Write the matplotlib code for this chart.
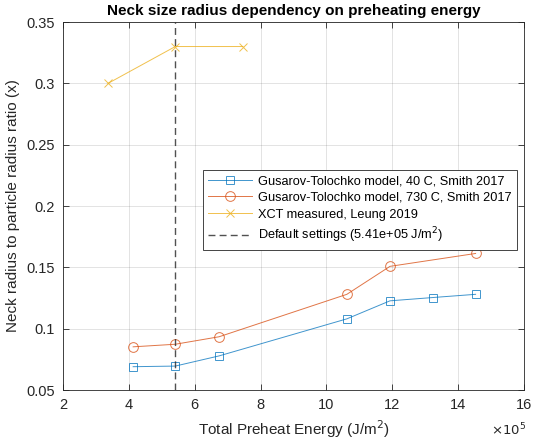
import matplotlib
matplotlib.use("Agg")
import matplotlib.pyplot as plt
from matplotlib.ticker import MultipleLocator

plt.rcParams['font.family'] = ['Liberation Sans', 'DejaVu Sans']

# Preheat energy in units of 1e5 J/m^2
energy_40c = [4.13, 5.41, 6.74, 10.62, 11.93, 13.24, 14.53]
neck_40c = [0.069, 0.0695, 0.0778, 0.108, 0.1227, 0.1254, 0.128]

energy_730c = [4.13, 5.41, 6.74, 10.62, 11.93, 14.53]
neck_730c = [0.0852, 0.0873, 0.0934, 0.128, 0.1508, 0.1613]

energy_xct = [3.37, 5.41, 7.46]
neck_xct = [0.30, 0.33, 0.33]

default_energy = 5.41

labels = [
    "Gusarov-Tolochko model, 40 C, Smith 2017",
    "Gusarov-Tolochko model, 730 C, Smith 2017",
    "XCT measured, Leung 2019",
    "Default settings (5.41e+05 J/m$^2$)",
]

c_blue = (0.0, 0.447, 0.741)
c_orange = (0.85, 0.325, 0.098)
c_yellow = (0.929, 0.694, 0.125)
c_axis = (0.15, 0.15, 0.15)

fig = plt.figure(figsize=(5.33, 4.45), dpi=100)
ax = fig.add_axes([63 / 533, 1 - 390 / 445, (524 - 63) / 533, (390 - 22) / 445])

ax.plot(energy_40c, neck_40c, color=c_blue, lw=0.7, marker='s', ms=6,
        mfc='none', mew=0.7, alpha=0.75, label=labels[0])
ax.plot(energy_730c, neck_730c, color=c_orange, lw=0.7, marker='o', ms=7,
        mfc='none', mew=0.7, alpha=0.8, label=labels[1])
ax.plot(energy_xct, neck_xct, color=c_yellow, lw=0.7, marker='x', ms=6,
        mew=0.7, alpha=0.8, label=labels[2])
ax.axvline(default_energy, color=c_axis, lw=1.0, ls=(0, (5, 3)),
           alpha=0.8, label=labels[3])

ax.set_xlim(2, 16)
ax.set_ylim(0.05, 0.35)
ax.xaxis.set_major_locator(MultipleLocator(2))
ax.yaxis.set_major_locator(MultipleLocator(0.05))
ax.set_yticklabels([f"{v:g}" for v in ax.get_yticks()])

ax.grid(True, color=c_axis, alpha=0.15, lw=0.6)
ax.set_axisbelow(True)
for s in ax.spines.values():
    s.set_color(c_axis)
    s.set_linewidth(0.6)
ax.tick_params(direction='in', top=True, right=True, length=4, width=0.6,
               labelsize=10.5, colors=c_axis, pad=6)

ax.set_title("Neck size radius dependency on preheating energy",
             fontsize=11, fontweight='bold', pad=5)
ax.set_xlabel("Total Preheat Energy (J/m$^2$)", fontsize=11, color=c_axis)
ax.set_ylabel("Neck radius to particle radius ratio (x)", fontsize=11,
              color=c_axis)
ax.text(1.005, -0.085, r"$\times10^5$", transform=ax.transAxes, ha='right',
        va='top', fontsize=9.5, color=c_axis)

leg = ax.legend(loc='upper left', bbox_to_anchor=((203 - 63) / 461, 1 - (170 - 22) / 368),
                fontsize=9.2, frameon=True, fancybox=False, framealpha=1,
                edgecolor=c_axis, handlelength=3.4, borderpad=0.4,
                labelspacing=0.38, handletextpad=0.5, borderaxespad=0)
leg.get_frame().set_linewidth(0.6)

fig.savefig("out.png", dpi=100)
